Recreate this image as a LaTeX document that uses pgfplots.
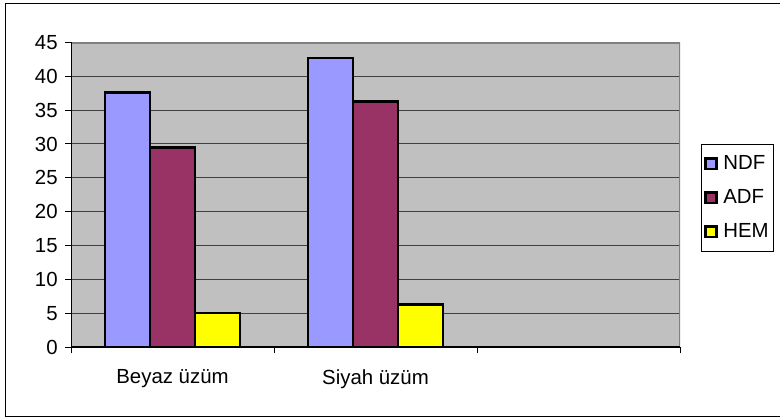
\documentclass[border=0pt]{standalone}
\usepackage{pgfplots}
\pgfplotsset{compat=1.18}
\usepackage{fontspec}
\setmainfont{Liberation Sans}
\definecolor{ndf}{HTML}{9999FF}
\definecolor{adf}{HTML}{993366}
\definecolor{hem}{HTML}{FFFF00}
\definecolor{bg}{HTML}{C0C0C0}
\definecolor{frm}{HTML}{808080}
\begin{document}
\begin{tikzpicture}
\path[use as bounding box] (0pt,0pt) rectangle (585pt,313.5pt);
\begin{scope}
\clip (0pt,0pt) rectangle (585pt,313.5pt);
\draw[black, line width=0.75pt] (3.75pt,1.2pt) rectangle (600pt,311.2pt);
\end{scope}
\begin{axis}[
  at={(53.25pt,53.25pt)}, anchor=south west,
  scale only axis, width=456.75pt, height=228.4pt,
  xmin=0, xmax=3, ymin=0, ymax=45,
  ybar=0pt, bar width=33.75pt,
  axis background/.style={fill=bg},
  axis line style={draw=none},
  ytick={0,5,...,45},
  ymajorgrids, grid style={draw=black!75, line width=0.75pt},
  xtick={0,1,2,3}, xticklabels={},
  extra x ticks={0.5,1.5}, extra x tick labels={Beyaz üzüm,Siyah üzüm},
  extra x tick style={major tick length=0pt, xticklabel style={yshift=-13.5pt}},
  tick align=outside, major tick length=4.5pt,
  tick style={black, line width=0.75pt},
  xtick pos=bottom, ytick pos=left,
  tick label style={font=\fontsize{15.3}{18}\selectfont},
  yticklabel style={xshift=-2pt},
  /pgf/number format/assume math mode=true,
  legend style={at={(1.0345,0.6667)}, anchor=north west, draw=black,
    line width=0.75pt, font=\fontsize{15.3}{18}\selectfont,
    row sep=9.5pt, inner xsep=2pt, inner ysep=6.5pt, cells={anchor=west},
    nodes={inner xsep=1.5pt}},
  legend image code/.code={\draw[#1, line width=1.9pt] (2pt,-4pt) rectangle (10.3pt,4pt);\path (13pt,0pt);},
]
\addplot[fill=ndf, draw=black, line width=1.9pt] coordinates {(0.5,37.6) (1.5,42.7)};
\addplot[fill=adf, draw=black, line width=1.9pt] coordinates {(0.5,29.5) (1.5,36.3)};
\addplot[fill=hem, draw=black, line width=1.9pt] coordinates {(0.5,5.0) (1.5,6.3)};
\legend{NDF,ADF,HEM}
\draw[frm, line width=1.8pt] (rel axis cs:0,1) -- (rel axis cs:1,1) -- (rel axis cs:1,0);
\draw[black, line width=0.75pt] (rel axis cs:0,0) -- (rel axis cs:0,1);
\draw[black, line width=1.1pt] (rel axis cs:0,0) -- (rel axis cs:1,0);
\end{axis}
\end{tikzpicture}
\end{document}
